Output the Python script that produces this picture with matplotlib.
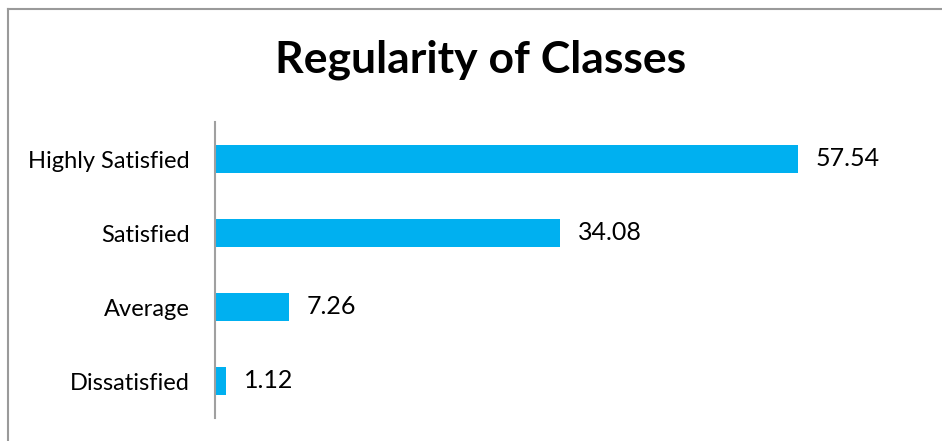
import matplotlib.pyplot as plt
from matplotlib.lines import Line2D

# data
categories = ['Highly Satisfied', 'Satisfied', 'Average', 'Dissatisfied']
values = [57.54, 34.08, 7.26, 1.12]
value_labels = ['57.54', '34.08', '7.26', '1.12']

plt.rcParams['font.family'] = ['Lato', 'DejaVu Sans']

fig = plt.figure(figsize=(9.42, 4.41), dpi=100)
W, H = 942, 441
ax = fig.add_axes([215 / W, (H - 418) / H, 709 / W, 296 / H])

pos = list(range(len(categories)))
ax.barh(pos, values, height=0.38, color='#00B0F0')
ax.set_ylim(len(categories) - 0.5, -0.5)
ax.set_xlim(0, 70)
ax.set_yticks(pos)
ax.set_yticklabels(categories, fontsize=17)
ax.tick_params(axis='y', length=0, pad=18)
ax.set_xticks([])

for s in ['top', 'right', 'bottom']:
    ax.spines[s].set_visible(False)
ax.spines['left'].set_color('#a0a0a0')
ax.spines['left'].set_linewidth(1.5)

for i, (v, lab) in enumerate(zip(values, value_labels)):
    ax.annotate(lab, (v, i), xytext=(13, 0), textcoords='offset points',
                va='center', ha='left', fontsize=18)

fig.text(481 / W, 1 - 60 / H, 'Regularity of Classes', ha='center', va='center',
         fontsize=32, fontweight='bold')

# chart frame (left and top edges only visible)
fig.add_artist(Line2D([8 / W, 8 / W], [0, 1 - 9 / H], transform=fig.transFigure,
                      color='#9a9a9a', lw=1.5))
fig.add_artist(Line2D([8 / W, 1], [1 - 9 / H, 1 - 9 / H], transform=fig.transFigure,
                      color='#9a9a9a', lw=1.5))

fig.savefig('out.png', dpi=100)
